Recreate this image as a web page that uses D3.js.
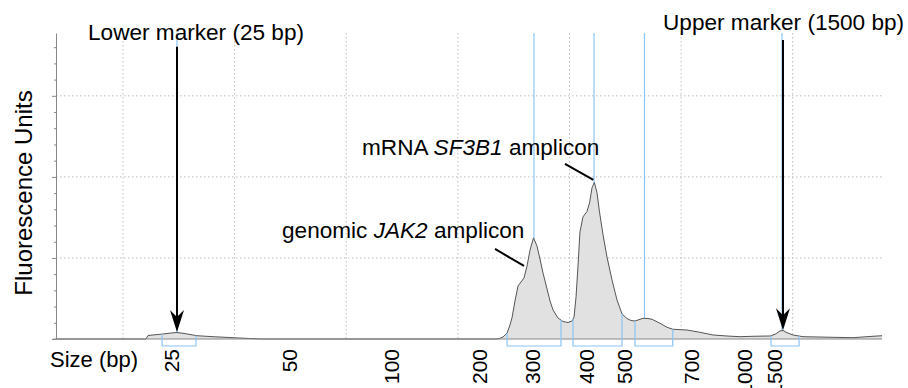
<!DOCTYPE html>
<html>
<head>
<meta charset="utf-8">
<script src="https://cdn.jsdelivr.net/npm/d3@7"></script>
<style>
  body { margin: 0; background: #fff; }
  svg { display: block; font-family: "Liberation Sans", Arial, Helvetica, sans-serif; }
  .grid line { stroke: #bdbdbd; stroke-dasharray: 1.5,2.5; }
  .peak-line { stroke: #8cc4f4; stroke-width: 1.2; fill: none; }
</style>
</head>
<body>
<svg id="chart" width="908" height="388"></svg>
<script>
// migration time (s) and fluorescence
const traceTime = [24.0, 32.06, 32.24, 32.87, 33.59, 34.30, 34.84, 35.38, 36.63, 38.07, 39.86, 41.38, 42.46,
  63.51, 63.78, 64.05, 64.41, 64.67, 64.85, 65.12, 65.39, 65.66, 65.93, 66.20, 66.47, 66.78, 67.09, 67.36,
  67.63, 67.99, 68.26, 68.53, 68.97, 69.42, 69.87, 70.23, 70.41, 70.59, 70.77, 70.94, 71.21, 71.57, 71.80,
  72.02, 72.23, 72.47, 72.69, 73.01, 73.36, 73.81, 74.26, 74.71, 75.15, 75.51, 75.87, 76.14, 76.59, 77.04,
  77.40, 78.11, 78.74, 79.28, 80.53, 81.70, 82.86, 84.11, 85.28, 86.44, 87.97, 88.42, 88.86, 89.13, 89.49,
  90.03, 90.92, 93.61, 95.40, 96.66, 98.0];
const traceFU = [0, 0, 0.86, 1.04, 1.23, 1.48, 1.60, 1.41, 0.81, 0.57, 0.32, 0.12, 0,
  0, 0.17, 0.49, 1.48, 3.46, 5.19, 9.38, 13.09, 14.07, 15.06, 18.02, 21.98, 24.94, 22.96, 19.75,
  16.30, 12.35, 9.38, 7.16, 5.19, 4.32, 4.07, 4.44, 5.43, 10.37, 18.27, 26.42, 30.12, 31.48, 33.58,
  37.28, 38.64, 36.05, 31.36, 25.68, 20.25, 14.57, 9.63, 6.17, 5.06, 4.57, 4.44, 4.69, 5.11, 5.06,
  4.86, 3.88, 2.89, 2.40, 2.22, 1.65, 0.99, 0.74, 0.57, 0.67, 0.74, 1.16, 1.98, 2.10, 1.56,
  0.99, 0.57, 0.42, 0.32, 0.57, 0.81];

// ladder: size labels and the time they sit at
const ladderBp = [25, 50, 100, 200, 300, 400, 500, 700, 1000, 1500];
const ladderTime = [34.93, 45.59, 54.64, 62.61, 67.36, 72.11, 75.60, 81.52, 86.35, 89.04];

// detected peaks (blue markers)
const peakTime = [34.84, 66.82, 72.20, 76.72, 89.04];
const peakStart = [33.50, 64.41, 70.32, 75.87, 88.06];
const peakEnd = [36.54, 69.24, 74.71, 79.25, 90.57];

const gridTimes = [30, 40, 50, 60, 70, 80, 90];
const fuMajor = [0, 20, 40, 60];
const fuMinor = [4, 8, 12, 16, 24, 28, 32, 36, 44, 48, 52, 56, 64, 68, 72];

const margin = { top: 33, right: 26, bottom: 49, left: 56 };
const svgWidth = 908, svgHeight = 388;
const width = svgWidth - margin.left - margin.right;
const height = svgHeight - margin.top - margin.bottom;

const svg = d3.select('#chart');

const x = d3.scaleLinear().domain([24, 98]).range([margin.left, margin.left + width]);
const y = d3.scaleLinear().domain([0, 75.5]).range([margin.top + height, margin.top]);
// size axis: piecewise mapping bp -> pixel through the ladder
const xSize = d3.scaleLinear().domain(ladderBp).range(ladderTime.map(t => x(t)));

const trace = traceTime.map((t, i) => ({ t: t, v: traceFU[i] }));
const bis = d3.bisector(d => d.t).left;
function fuAt(t) {
  let i = bis(trace, t);
  if (i <= 0) return trace[0].v;
  if (i >= trace.length) return trace[trace.length - 1].v;
  let a = trace[i - 1], b = trace[i];
  return a.v + (b.v - a.v) * (t - a.t) / (b.t - a.t);
}

// grid
const grid = svg.append('g').attr('class', 'grid');
grid.selectAll('.gx').data(gridTimes).join('line')
  .attr('x1', d => x(d)).attr('x2', d => x(d))
  .attr('y1', y(75.5)).attr('y2', y(0));
grid.selectAll('.gy').data(fuMajor.slice(1)).join('line')
  .attr('x1', x(24)).attr('x2', x(98))
  .attr('y1', d => y(d)).attr('y2', d => y(d));

// peak lines from the top down to the trace
svg.append('g').selectAll('line').data(peakTime).join('line')
  .attr('class', 'peak-line')
  .attr('x1', d => x(d)).attr('x2', d => x(d))
  .attr('y1', y(75.5)).attr('y2', d => y(fuAt(d)));

// trace
const area = d3.area().x(d => x(d.t)).y0(y(0)).y1(d => y(d.v));
const line = d3.line().x(d => x(d.t)).y(d => y(d.v));
svg.append('path').datum(trace).attr('d', area).attr('fill', '#e1e1e1');
svg.append('path').datum(trace).attr('d', line)
  .attr('fill', 'none').attr('stroke', '#555').attr('stroke-width', 1);

// axes
svg.append('g')
  .attr('transform', `translate(${margin.left},0)`)
  .call(d3.axisLeft(y).tickValues(fuMajor).tickSize(4).tickFormat('').tickSizeOuter(0))
  .call(g => g.select('.domain').attr('stroke', '#888'))
  .call(g => g.selectAll('.tick line').attr('stroke', '#888'));
svg.append('g')
  .attr('transform', `translate(${margin.left},0)`)
  .call(d3.axisLeft(y).tickValues(fuMinor).tickSize(2).tickFormat('').tickSizeOuter(0))
  .call(g => g.select('.domain').remove())
  .call(g => g.selectAll('.tick line').attr('stroke', '#888'));

svg.append('line')
  .attr('x1', margin.left - 3).attr('x2', x(98))
  .attr('y1', y(0)).attr('y2', y(0))
  .attr('stroke', '#888');

const xAxis = svg.append('g')
  .attr('transform', `translate(0,${y(0)})`)
  .call(d3.axisBottom(xSize).tickValues(ladderBp).tickSize(0).tickFormat(d => d));
xAxis.select('.domain').remove();
xAxis.selectAll('text')
  .attr('transform', 'rotate(-90)')
  .attr('text-anchor', 'end')
  .attr('x', -10).attr('y', 0).attr('dy', 0)
  .attr('font-size', 21).attr('font-family', '"Liberation Sans", Arial, sans-serif')
  .attr('fill', '#000');

// peak brackets under the baseline
const bracket = svg.append('g');
peakStart.forEach((s, i) => {
  let e = peakEnd[i];
  let yb = y(0) + 7;
  bracket.append('path')
    .attr('class', 'peak-line')
    .attr('d', `M${x(s)},${y(fuAt(s))}V${yb}H${x(e)}V${y(fuAt(e))}`);
});

// arrows to the markers
const arrowTopFU = [72.1, 73.8];
[peakTime[0], peakTime[4]].forEach((t, i) => {
  let px = x(t) + (i === 1 ? 1 : 0);
  let tip = y(fuAt(t)) - 0.5;
  svg.append('line')
    .attr('x1', px).attr('x2', px)
    .attr('y1', y(arrowTopFU[i])).attr('y2', tip - 12)
    .attr('stroke', '#000').attr('stroke-width', 2);
  svg.append('path')
    .attr('d', `M${px},${tip}L${px - 7},${tip - 22}L${px},${tip - 15}L${px + 7},${tip - 22}Z`)
    .attr('fill', '#000');
});

// leader lines to the amplicon peaks
const leaders = [[63.33, 22.22, 65.93, 18.02], [69.60, 43.21, 72.14, 39.26]];
svg.append('g').selectAll('line').data(leaders).join('line')
  .attr('x1', d => x(d[0])).attr('y1', d => y(d[1]))
  .attr('x2', d => x(d[2])).attr('y2', d => y(d[3]))
  .attr('stroke', '#000').attr('stroke-width', 2);

// labels
const fs = 22.6;
function label(xp, yp, parts) {
  let t = svg.append('text').attr('x', xp).attr('y', yp).attr('font-size', fs).attr('fill', '#000');
  parts.forEach(p => {
    t.append('tspan').text(p[0]).attr('font-style', p[1] ? 'italic' : 'normal');
  });
}
label(88, 40, [['Lower marker (25 bp)']]);
label(663, 30, [['Upper marker (1500 bp)']]);
label(282, 238, [['genomic '], ['JAK2', true], [' amplicon']]);
label(362, 155, [['mRNA '], ['SF3B1', true], [' amplicon']]);

svg.append('text')
  .attr('x', 50).attr('y', 367)
  .attr('font-size', 22).attr('fill', '#000')
  .text('Size (bp)');

svg.append('text')
  .attr('transform', 'rotate(-90)')
  .attr('x', -193).attr('y', 32)
  .attr('text-anchor', 'middle')
  .attr('font-size', 24).attr('fill', '#000')
  .text('Fluorescence Units');
</script>
</body>
</html>
